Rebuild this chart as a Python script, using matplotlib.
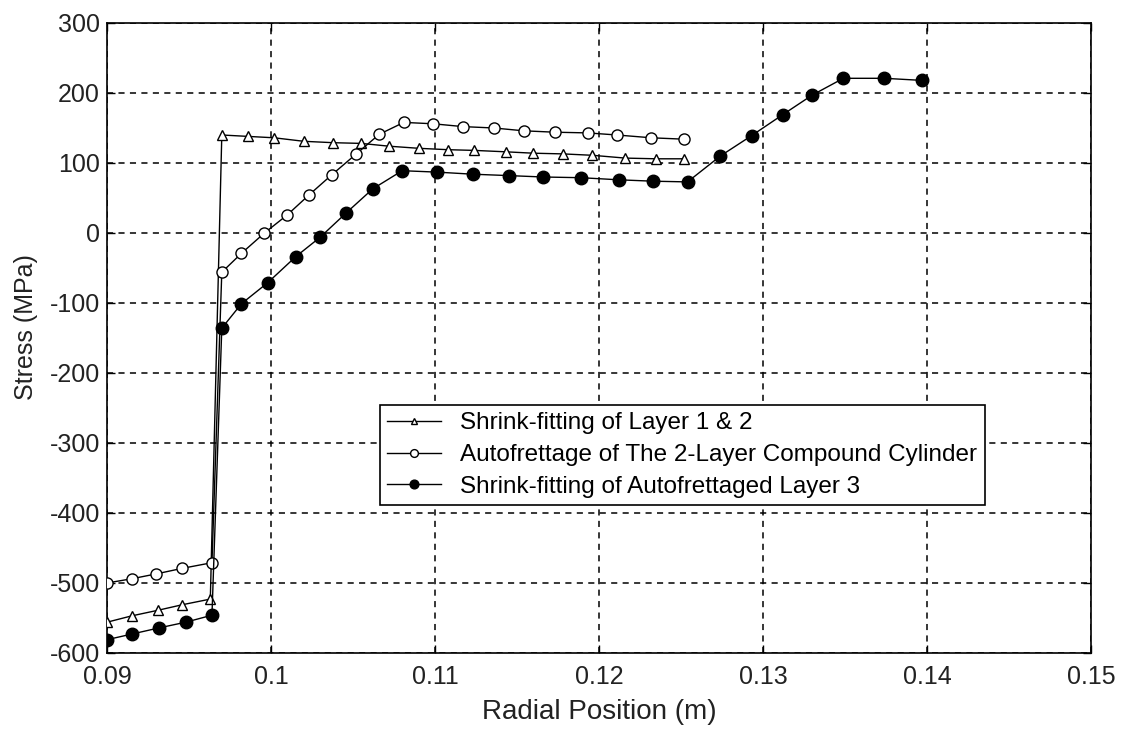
import matplotlib
matplotlib.use("Agg")
import matplotlib.pyplot as plt

plt.rcParams['font.family'] = ['Liberation Sans', 'DejaVu Sans']
plt.rcParams['axes.unicode_minus'] = False

# Shrink-fitting of Layer 1 & 2 (open triangles)
tri_x = [0.0900, 0.0915, 0.0931, 0.0946, 0.0963,
         0.0970, 0.0986, 0.1002, 0.1020, 0.1038, 0.1055, 0.1072, 0.1090, 0.1108,
         0.1124, 0.1143, 0.1160, 0.1178, 0.1196, 0.1216, 0.1235, 0.1252]
tri_y = [-556, -547, -539, -531, -523,
         140, 138, 136, 131, 129, 128, 124, 121, 119,
         118, 116, 114, 113, 111, 107, 106, 106]

# Autofrettage of The 2-Layer Compound Cylinder (open circles)
circ_x = [0.0900, 0.0915, 0.0930, 0.0946, 0.0964,
          0.0970, 0.0982, 0.0996, 0.1010, 0.1023, 0.1037, 0.1052, 0.1066, 0.1081,
          0.1099, 0.1117, 0.1136, 0.1154, 0.1173, 0.1193, 0.1211, 0.1232, 0.1252]
circ_y = [-500, -494, -487, -479, -471,
          -56, -29, 0, 26, 54, 83, 113, 141, 158,
          156, 152, 150, 146, 144, 143, 140, 136, 134]

# Shrink-fitting of Autofrettaged Layer 3 (filled circles)
fill_x = [0.0900, 0.0915, 0.0932, 0.0948, 0.0964,
          0.0970, 0.0982, 0.0998, 0.1015, 0.1030, 0.1046, 0.1062, 0.1080,
          0.1101, 0.1123, 0.1145, 0.1166, 0.1189, 0.1212, 0.1233, 0.1254,
          0.1274, 0.1293, 0.1312, 0.1330, 0.1349, 0.1374, 0.1397]
fill_y = [-581, -573, -564, -556, -546,
          -136, -101, -71, -34, -6, 29, 63, 89,
          87, 84, 82, 80, 79, 76, 74, 73,
          110, 139, 169, 197, 221, 221, 218]

labels = ["Shrink-fitting of Layer 1 & 2",
          "Autofrettage of The 2-Layer Compound Cylinder",
          "Shrink-fitting of Autofrettaged Layer 3"]

x_ticks = [0.09, 0.1, 0.11, 0.12, 0.13, 0.14, 0.15]
x_ticklabels = ["0.09", "0.1", "0.11", "0.12", "0.13", "0.14", "0.15"]
y_ticks = [-600, -500, -400, -300, -200, -100, 0, 100, 200, 300]

fig = plt.figure(figsize=(11.28, 7.30), dpi=100)
ax = fig.add_axes([107/1128, 1-653/730, (1091-107)/1128, (653-23)/730])

ax.plot(tri_x, tri_y, color='black', lw=1.0, marker='^', markersize=7,
        markerfacecolor='white', markeredgecolor='black', markeredgewidth=1.0,
        label=labels[0], zorder=3)
ax.plot(circ_x, circ_y, color='black', lw=1.0, marker='o', markersize=8,
        markerfacecolor='white', markeredgecolor='black', markeredgewidth=1.0,
        label=labels[1], zorder=3)
ax.plot(fill_x, fill_y, color='black', lw=1.0, marker='o', markersize=9,
        markerfacecolor='black', markeredgecolor='black',
        label=labels[2], zorder=3)

ax.set_xlim(0.09, 0.15)
ax.set_ylim(-600, 300)
ax.set_xticks(x_ticks)
ax.set_xticklabels(x_ticklabels)
ax.set_yticks(y_ticks)

ax.grid(True, color='black', linestyle=(0, (4, 3.5)), linewidth=1.1)
ax.tick_params(direction='in', length=6, width=1.0, labelsize=18,
               top=True, right=True)
ax.tick_params(axis='x', pad=9)
ax.tick_params(axis='y', pad=5)
for s in ax.spines.values():
    s.set_linewidth(1.2)

ax.set_xlabel("Radial Position (m)", fontsize=20, color='#222222', labelpad=7)
ax.set_ylabel("Stress (MPa)", fontsize=18, color='#222222')
ax.yaxis.set_label_coords((38-107)/984, (653-327)/630)
for lab in ax.get_xticklabels() + ax.get_yticklabels():
    lab.set_color('#222222')

leg = ax.legend(loc='upper left', bbox_to_anchor=((380-107)/984, (653-405)/630),
                fontsize=17.5, frameon=True, fancybox=False, edgecolor='black',
                framealpha=1, borderpad=0.3, labelspacing=0.4,
                handlelength=2.2, handletextpad=0.8, borderaxespad=0,
                markerscale=0.7)
leg.get_frame().set_linewidth(1.2)

fig.savefig("out.png", dpi=100)
